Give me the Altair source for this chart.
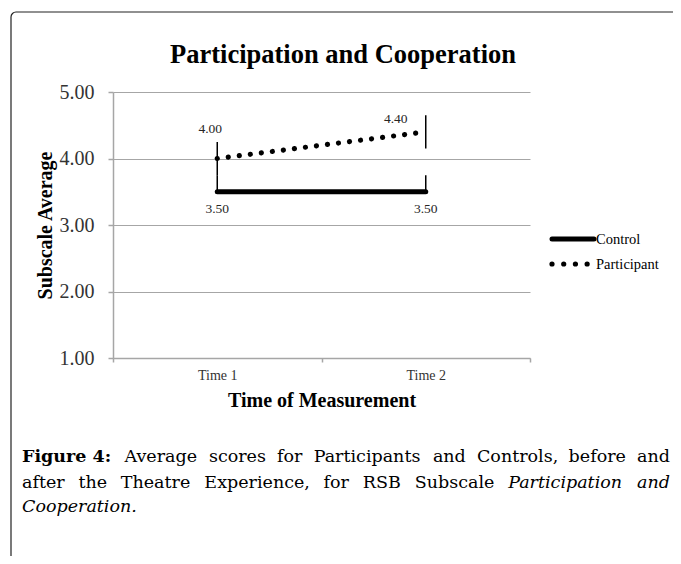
import altair as alt
import pandas as pd

# ---------------- data ----------------
times = ["Time 1", "Time 2"]
series_names = ["Control", "Participant"]
control_vals = [3.50, 3.50]
participant_vals = [4.00, 4.40]
control_err_plus = [0.25, 0.25]
participant_err = [0.25, 0.25]
y_tick_values = [1, 2, 3, 4, 5]

chart_title = "Participation and Cooperation"
x_title = "Time of Measurement"
y_title = "Subscale Average"
caption_line1 = [("Figure 4:", "bold"), ("Average", "normal"),
                 ("scores", "normal"), ("for", "normal"), ("Participants", "normal"),
                 ("and", "normal"), ("Controls,", "normal"), ("before", "normal"),
                 ("and", "normal")]
caption_line2 = [("after", "normal"), ("the", "normal"), ("Theatre", "normal"),
                 ("Experience,", "normal"), ("for", "normal"), ("RSB", "normal"),
                 ("Subscale", "normal"), ("Participation", "italic"), ("and", "italic")]
caption_line3 = [("Cooperation.", "italic")]

rows = []
for i, t in enumerate(times):
    rows.append(dict(time=t, series=series_names[0], value=control_vals[i],
                     lo=control_vals[i], hi=control_vals[i] + control_err_plus[i]))
    rows.append(dict(time=t, series=series_names[1], value=participant_vals[i],
                     lo=participant_vals[i] - participant_err[i],
                     hi=participant_vals[i] + participant_err[i]))
df = pd.DataFrame(rows)

# ---------------- layout helpers ----------------
SERIF = "Liberation Serif"
CAP = "DejaVu Serif"
CAP_SIZE = 17.5
OX, OY = 113, 92  # page position of plot origin


def px(x):
    return x - OX


def py(y):
    return y - OY


# approximate DejaVu Serif advance widths (em) used to justify the caption
GW = {" ": .318, "a": .596, "b": .640, "c": .560, "d": .640, "e": .592, "f": .371,
      "g": .640, "h": .644, "i": .320, "l": .320, "m": .948, "n": .644, "o": .602,
      "p": .640, "r": .478, "s": .513, "t": .402, "u": .644, "v": .565, "x": .564,
      "y": .565, "A": .722, "B": .735, "C": .720, "E": .729, "F": .694, "P": .703,
      "R": .770, "S": .685, "T": .685, "4": .636, ",": .318, ".": .318, ":": .337}


def word_w(word, style):
    w = sum(GW.get(ch, .6) for ch in word) * CAP_SIZE
    return w * 1.12 if style == "bold" else w


def justify(words, x0, x1):
    widths = [word_w(w, s) for w, s in words]
    gap = (x1 - x0 - sum(widths)) / max(len(words) - 1, 1)
    out, x = [], x0
    for (w, s), wd in zip(words, widths):
        out.append(x)
        x += wd + gap
    return out


x_scale = alt.Scale(type="band", domain=times, paddingInner=0, paddingOuter=0)
y_scale = alt.Scale(domain=[1, 5], nice=False, zero=False)

x_axis = alt.Axis(title=x_title, tickBand="extent", labelAngle=0, grid=False, zindex=1,
                  domainColor="#a6a6a6", domainWidth=1.5, tickColor="#a6a6a6",
                  tickWidth=1.5, tickSize=4, labelFont=SERIF, labelFontSize=14,
                  labelColor="#333333", labelPadding=6, titleFont=SERIF,
                  titleFontSize=20, titleFontWeight="bold", titleColor="#000000",
                  titlePadding=8)
y_axis = alt.Axis(title=y_title, values=y_tick_values, format=".2f", grid=True, zindex=0,
                  gridColor="#a6a6a6", gridWidth=1, domainColor="#a6a6a6",
                  domainWidth=1.5, tickColor="#a6a6a6", tickWidth=1.5, tickSize=5,
                  labelFont=SERIF, labelFontSize=20, labelColor="#333333",
                  labelPadding=14, titleFont=SERIF, titleFontSize=20,
                  titleFontWeight="bold", titleColor="#000000", titlePadding=4)

X = alt.X("time:N", sort=times, scale=x_scale, axis=x_axis)
Y = alt.Y("value:Q", scale=y_scale, axis=y_axis)

base = alt.Chart(df)

control_line = base.transform_filter(alt.datum.series == series_names[0]).mark_line(
    color="black", strokeWidth=5, strokeCap="round").encode(x=X, y=Y)

part_line = base.transform_filter(alt.datum.series == series_names[1]).mark_line(
    color="black", strokeWidth=5.2, strokeCap="round", strokeDash=[0.01, 11.1]).encode(
    x=X, y=Y)

err = base.mark_rule(color="black", strokeWidth=1.5).encode(
    x=X, y=alt.Y("lo:Q", scale=y_scale, axis=y_axis), y2="hi:Q")

lbl_style = dict(font=SERIF, fontSize=13.5, color="#262626", baseline="alphabetic",
                 align="center")
lbl_p1 = base.transform_filter(
    (alt.datum.series == series_names[1]) & (alt.datum.time == times[0])).mark_text(
    dx=-7, dy=-26, **lbl_style).encode(x=X, y=Y, text=alt.Text("value:Q", format=".2f"))
lbl_p2 = base.transform_filter(
    (alt.datum.series == series_names[1]) & (alt.datum.time == times[1])).mark_text(
    dx=-30, dy=-9, **lbl_style).encode(x=X, y=Y, text=alt.Text("value:Q", format=".2f"))
lbl_c = base.transform_filter(alt.datum.series == series_names[0]).mark_text(
    dx=0, dy=21, **lbl_style).encode(x=X, y=Y, text=alt.Text("value:Q", format=".2f"))


def note(text, x, y, font=SERIF, size=14, weight="normal", style="normal", align="left",
         color="#000000"):
    return alt.Chart(pd.DataFrame({"t": [text]})).mark_text(
        font=font, fontSize=size, fontWeight=weight, fontStyle=style, align=align,
        baseline="alphabetic", color=color).encode(
        x=alt.value(px(x)), y=alt.value(py(y)), text="t:N")


title = note(chart_title, 343, 63, size=26.5, weight="bold", align="center")

leg_c_line = alt.Chart(pd.DataFrame({"s": [series_names[0]]})).mark_rule(
    color="black", strokeWidth=5, strokeCap="round").encode(
    x=alt.value(px(552)), x2=alt.value(px(594)), y=alt.value(py(239)))
leg_p_line = alt.Chart(pd.DataFrame({"s": [series_names[1]]})).mark_rule(
    color="black", strokeWidth=5.2, strokeCap="round", strokeDash=[0.01, 11.7]).encode(
    x=alt.value(px(552)), x2=alt.value(px(588)), y=alt.value(py(264)))
leg_c_txt = note(series_names[0], 596, 244, size=14.5)
leg_p_txt = note(series_names[1], 596, 269, size=14.5)

CAP_X0, CAP_X1 = 22, 670
caps = []
for words, base_y in [(caption_line1, 462), (caption_line2, 488)]:
    xs = justify(words, CAP_X0, CAP_X1)
    for k, ((w, s), x) in enumerate(zip(words, xs)):
        last = k == len(words) - 1
        caps.append(note(w, CAP_X1 if last else x, base_y, font=CAP, size=CAP_SIZE,
                         weight="bold" if s == "bold" else "normal",
                         style="italic" if s == "italic" else "normal",
                         align="right" if last else "left"))
for w, s in caption_line3:
    caps.append(note(w, CAP_X0, 512, font=CAP, size=CAP_SIZE, style="italic"))

border = alt.Chart(pd.DataFrame({"b": [1]})).mark_rect(
    filled=False, fillOpacity=0, stroke="#222222", strokeWidth=1.2, cornerRadius=5).encode(
    x=alt.value(px(11)), x2=alt.value(px(11) + 700), y=alt.value(py(12)),
    y2=alt.value(py(12) + 700))

chart = alt.layer(
    control_line, part_line, err, lbl_p1, lbl_p2, lbl_c, title,
    leg_c_line, leg_p_line, leg_c_txt, leg_p_txt, *caps, border,
).properties(
    width=417, height=266,
    autosize=alt.AutoSizeParams(type="none"),
    padding={"left": 105, "top": 84, "right": 143, "bottom": 198},
    background="white",
).configure_view(strokeWidth=0)

chart.save("out.html", embed_options={"renderer": "svg", "actions": False})
